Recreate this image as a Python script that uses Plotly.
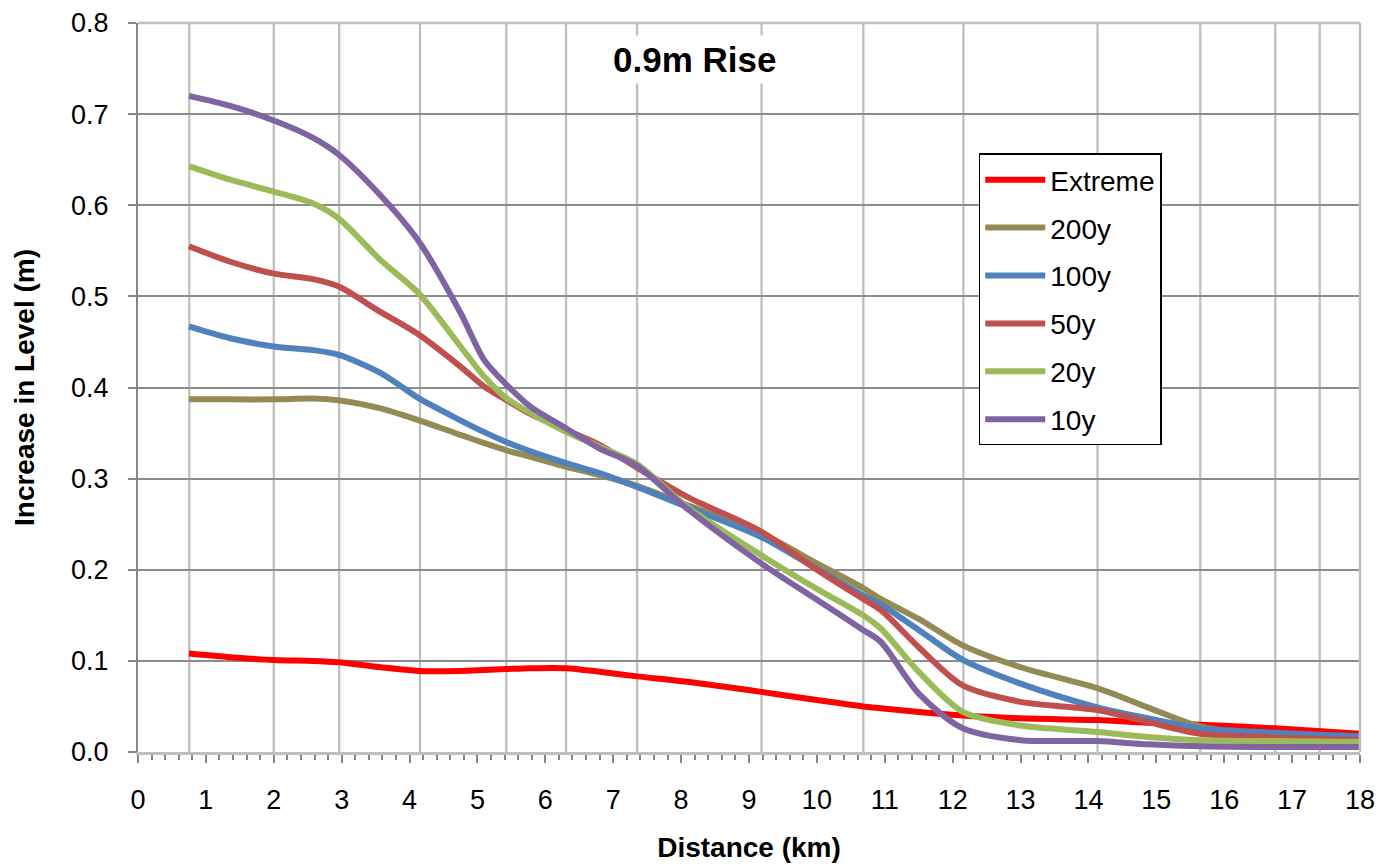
import plotly.graph_objects as go

# distance along the channel (km)
distance_km = [0.75, 1.36, 2.0, 2.58, 2.95, 3.57, 4.14, 4.75, 5.1, 5.43, 5.78, 6.31, 6.8,
               7.35, 8.09, 9.18, 10.0, 10.68, 10.94, 11.5, 12.15, 13.0, 14.13, 14.87,
               15.65, 16.75, 18.0]

extreme = [0.108, 0.104, 0.101, 0.100, 0.0985, 0.093, 0.089, 0.089, 0.090, 0.091, 0.092,
           0.092, 0.088, 0.083, 0.077, 0.066, 0.057, 0.050, 0.048, 0.044, 0.040, 0.037,
           0.035, 0.032, 0.030, 0.026, 0.020]
y200 = [0.387, 0.387, 0.387, 0.388, 0.386, 0.377, 0.364, 0.348, 0.339, 0.331, 0.324,
        0.313, 0.304, 0.292, 0.271, 0.240, 0.207, 0.180, 0.168, 0.146, 0.117, 0.093,
        0.070, 0.049, 0.028, 0.017, 0.013]
y100 = [0.467, 0.454, 0.445, 0.441, 0.436, 0.416, 0.388, 0.364, 0.351, 0.340, 0.330,
        0.317, 0.306, 0.291, 0.269, 0.236, 0.201, 0.172, 0.162, 0.134, 0.101, 0.075,
        0.049, 0.037, 0.026, 0.021, 0.017]
y50 = [0.555, 0.538, 0.525, 0.519, 0.511, 0.483, 0.458, 0.423, 0.401, 0.386, 0.371,
       0.353, 0.337, 0.312, 0.280, 0.242, 0.200, 0.168, 0.156, 0.115, 0.073, 0.055,
       0.046, 0.033, 0.020, 0.016, 0.013]
y20 = [0.643, 0.628, 0.615, 0.602, 0.586, 0.540, 0.503, 0.445, 0.412, 0.388, 0.372,
       0.351, 0.335, 0.316, 0.269, 0.216, 0.179, 0.150, 0.1355, 0.088, 0.044, 0.029,
       0.022, 0.0165, 0.013, 0.012, 0.011]
y10 = [0.720, 0.709, 0.693, 0.674, 0.656, 0.611, 0.560, 0.482, 0.430, 0.403, 0.379,
       0.355, 0.333, 0.314, 0.267, 0.207, 0.167, 0.134, 0.121, 0.064, 0.026, 0.013,
       0.012, 0.0085, 0.0063, 0.0055, 0.0055]

series_names = ["Extreme", "200y", "100y", "50y", "20y", "10y"]
series_values = [extreme, y200, y100, y50, y20, y10]
series_colors = ["#FF0000", "#948A54", "#4F81BD", "#C0504D", "#9BBB59", "#8064A2"]

# cross-section positions (km) shown as vertical gridlines
section_km = [0.756, 2.0, 2.963, 4.153, 5.425, 6.305, 7.352, 9.185, 10.684, 12.158,
              14.134, 15.647, 16.752, 17.407]

x_ticks = list(range(0, 19))
y_ticks = [0.0, 0.1, 0.2, 0.3, 0.4, 0.5, 0.6, 0.7, 0.8]

FONT = "Arial, 'Liberation Sans', sans-serif"
LIGHT = "#BFBFBF"
DARK = "#868686"

fig = go.Figure()
for name, vals, col in zip(series_names, series_values, series_colors):
    fig.add_trace(go.Scatter(
        x=distance_km, y=vals, name=name, mode="lines",
        line=dict(color=col, width=6, shape="spline", smoothing=0.8),
        legendgroup=name,
    ))

shapes = [dict(type="line", xref="x", yref="paper", x0=s, x1=s, y0=0, y1=1,
               line=dict(color=LIGHT, width=2.3), layer="below")
          for s in section_km]
# plot-area border (top and right)
shapes.append(dict(type="line", xref="paper", yref="paper", x0=1, x1=1, y0=0, y1=1,
                   line=dict(color=LIGHT, width=2.5), layer="above"))
shapes.append(dict(type="line", xref="paper", yref="paper", x0=0, x1=1, y0=1, y1=1,
                   line=dict(color=LIGHT, width=2.5), layer="above"))

fig.update_layout(
    width=1393, height=865,
    margin=dict(l=138, r=33, t=23, b=113),
    plot_bgcolor="white", paper_bgcolor="white",
    font=dict(family=FONT, color="black", size=27),
    showlegend=True,
    legend=dict(
        x=0.688, y=0.821, xanchor="left", yanchor="top",
        bgcolor="white", bordercolor="black", borderwidth=1.5,
        font=dict(size=28, family=FONT), tracegroupgap=8.5,
        itemwidth=60,
    ),
    xaxis=dict(
        range=[0, 18], tickvals=x_ticks, ticktext=[str(t) for t in x_ticks],
        ticks="outside", ticklen=8, tickwidth=1.5, tickcolor=DARK,
        minor=dict(dtick=0.2, ticks="outside", ticklen=5, tickwidth=1.5,
                   tickcolor=DARK, showgrid=False),
        showgrid=False, zeroline=False, automargin=False,
        showline=True, linecolor=LIGHT, linewidth=2.5,
        tickfont=dict(size=27), ticklabelstandoff=14,
        title=dict(text="<b>Distance (km)</b>", font=dict(size=28), standoff=24),
    ),
    yaxis=dict(
        range=[0, 0.8], tickvals=y_ticks, tickformat=".1f",
        ticks="outside", ticklen=8, tickwidth=1.5, tickcolor=DARK,
        showgrid=True, gridcolor="#8C8C8C", gridwidth=1.5,
        zeroline=False, showline=True, linecolor=DARK, linewidth=2, automargin=False,
        tickfont=dict(size=27), ticklabelstandoff=14,
        title=dict(text="<b>Increase in Level (m)</b>", font=dict(size=28), standoff=28),
    ),
    shapes=shapes,
    annotations=[dict(
        text="<b>0.9m Rise</b>", xref="paper", yref="paper", x=0.4558, y=0.950,
        xanchor="center", yanchor="middle", showarrow=False,
        font=dict(size=35, family=FONT), bgcolor="white", borderpad=4,
    )],
)

fig.write_html("out.html")
